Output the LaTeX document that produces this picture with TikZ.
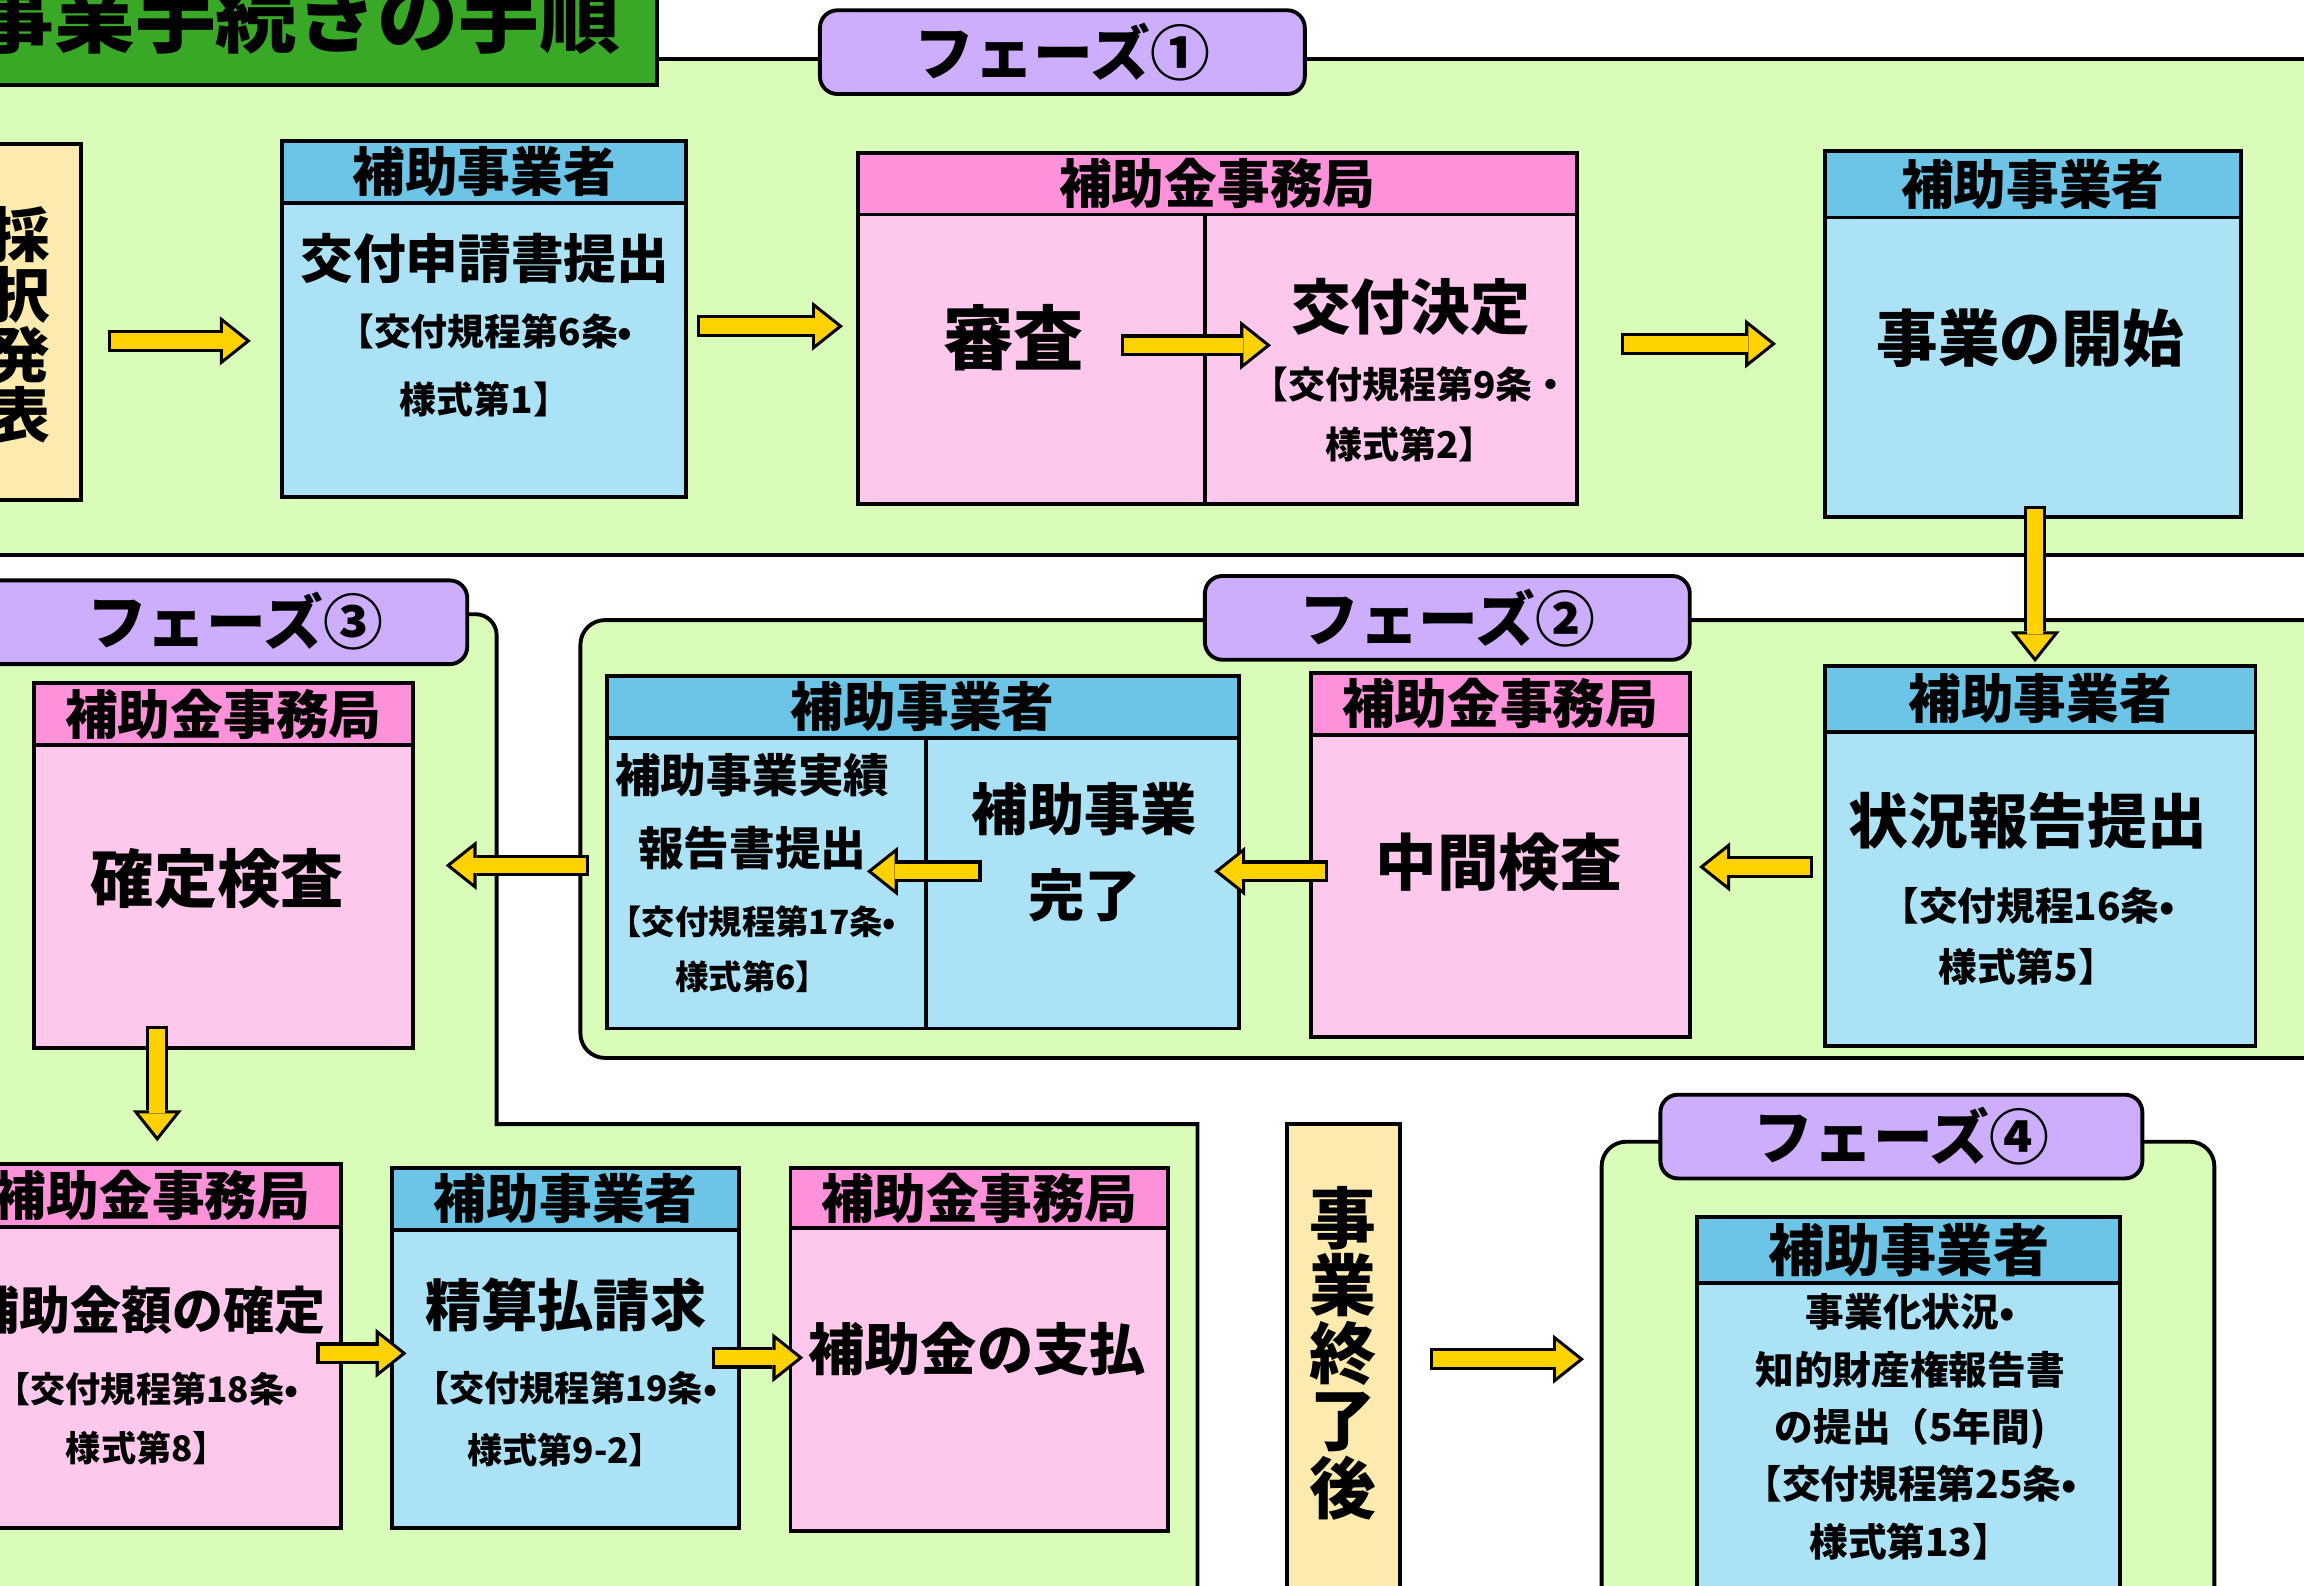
\documentclass[tikz,border=0pt]{standalone}
\usepackage{fontspec}
\setmainfont{Noto Sans CJK JP}
\usetikzlibrary{fit,calc,arrows.meta,positioning}
\definecolor{zonegreen}{HTML}{DAFCB9}
\definecolor{titlegreen}{HTML}{38A826}
\definecolor{phasepurple}{HTML}{CCAEFC}
\definecolor{bluehead}{HTML}{6CC4E6}
\definecolor{bluebody}{HTML}{ACE2F6}
\definecolor{pinkhead}{HTML}{FE92DA}
\definecolor{pinkbody}{HTML}{FEC8EC}
\definecolor{notegold}{HTML}{FCEAAE}
\definecolor{arrowyellow}{HTML}{FED200}
\newcommand{\jpsize}[2]{\fontsize{#1}{#2}\selectfont\bfseries}

\begin{document}
\begin{tikzpicture}[x=0.014694cm, y=-0.014694cm, thick,
  zone/.style={draw, line width=1.1pt, fill=zonegreen},
  box/.style={draw, line width=1.1pt, inner sep=0pt},
  bhead/.style={box, fill=bluehead},
  bbody/.style={box, fill=bluebody},
  phead/.style={box, fill=pinkhead},
  pbody/.style={box, fill=pinkbody},
  note/.style={box, fill=notegold},
  phase/.style={box, fill=phasepurple, rounded corners=5pt},
  txt/.style={inner sep=0pt, align=center},
  headtxt/.style={txt, font=\jpsize{15}{18}},
  phasetxt/.style={txt, font=\jpsize{17}{20}},
  divider/.style={line width=1.1pt},
  flow/.style={draw=black, line width=6.2pt, -{Triangle[length=8.8pt,width=14pt,line width=0pt]},
    postaction={draw=arrowyellow, line width=4.4pt, shorten <=0.9pt, shorten >=1.45pt,
      -{Triangle[length=6.45pt,width=10.3pt,line width=0pt]}}}]
\useasboundingbox (0,0) rectangle (1568,1079);
\clip (0,0) rectangle (1568,1079);

\draw[zone] (-20,40) rectangle (1600,378);
\draw[zone] (1600,422) [rounded corners=7pt] -- (395,422) -- (395,720) [sharp corners] -- (1600,720) -- cycle;
\draw[zone] (-20,418) [rounded corners=6pt] -- (338,418) [sharp corners] -- (338,765) -- (815,765) -- (815,1100) -- (-20,1100) -- cycle;
\draw[zone] (1090,1100) [rounded corners=7pt] -- (1090,777) -- (1507,777) [sharp corners] -- (1507,1100) -- cycle;

\node[box, fill=titlegreen, fit={(-20,-20)(447,58)}] (ttl) {};
\node[txt, font=\jpsize{23}{26}] (ttltxt) at (202,11) {事業手続きの手順};

\node[phase, fit={(558,7)(888,64)}] (p1) {};
\node[phasetxt] (p1txt) at (p1.center) {フェーズ①};
\node[phase, fit={(820,392)(1150,449)}] (p2) {};
\node[phasetxt] (p2txt) at (p2.center) {フェーズ②};
\node[phase, fit={(-20,395)(318,452)}] (p3) {};
\node[phasetxt] (p3txt) at (160,423) {フェーズ③};
\node[phase, fit={(1130,745)(1458,802)}] (p4) {};
\node[phasetxt] (p4txt) at (p4.center) {フェーズ④};

\node[note, fit={(-20,98)(55,340)}] (ann) {};
\node[txt, font=\jpsize{17}{17.1}] (anntxt) at (14,221) {採\\択\\発\\表};

\node[bbody, fit={(192,138)(467,338)}] (aa) {};
\node[bhead, fit={(192,96)(467,138)}] (aahead) {};
\node[headtxt] (aaheadtxt) at (aahead.center) {補助事業者};
\node[txt, font=\jpsize{10.5}{19.2}] (aatxt) at (330,221) {{\jpsize{15}{19.2}交付申請書提出}\\【交付規程第6条•\\様式第1】};

\node[pbody, fit={(584,146)(1073,343)}] (bb) {};
\node[phead, fit={(584,104)(1073,146)}] (bbhead) {};
\node[headtxt] (bbheadtxt) at (bbhead.center) {補助金事務局};
\draw[divider] (820,0 |- bb.north) -- (820,0 |- bb.south);
\node[txt, font=\jpsize{20}{24}] (bbtxt) at (690,230) {審査};
\node[txt, font=\jpsize{10.5}{17.1}] (bbdec) at (960,252) {{\jpsize{17}{17.1}交付決定}\\[2.5pt]【交付規程第9条・\\様式第2】};

\node[bbody, fit={(1242,148)(1525,352)}] (cc) {};
\node[bhead, fit={(1242,103)(1525,148)}] (cchead) {};
\node[headtxt] (ccheadtxt) at (cchead.center) {補助事業者};
\node[txt, font=\jpsize{17.5}{20}] (cctxt) at (1382,230) {事業の開始};

\node[bbody, fit={(1242,498)(1535,712)}] (dd) {};
\node[bhead, fit={(1242,453)(1535,498)}] (ddhead) {};
\node[headtxt] (ddheadtxt) at (ddhead.center) {補助事業者};
\node[txt, font=\jpsize{11}{17.5}] (ddtxt) at (1380,605) {{\jpsize{17}{17.5}状況報告提出}\\[4.2pt]【交付規程16条•\\様式第5】};

\node[pbody, fit={(892,500)(1150,706)}] (ee) {};
\node[phead, fit={(892,458)(1150,500)}] (eehead) {};
\node[headtxt] (eeheadtxt) at (eehead.center) {補助金事務局};
\node[txt, font=\jpsize{17.5}{20}] (eetxt) at (1020,587) {中間検査};

\node[bbody, fit={(413,502)(843,700)}] (ff) {};
\node[bhead, fit={(413,460)(843,502)}] (ffhead) {};
\node[headtxt] (ffheadtxt) at (ffhead.center) {補助事業者};
\draw[divider] (630,0 |- ff.north) -- (630,0 |- ff.south);
\node[txt, font=\jpsize{9.5}{15.5}] (fftxt) at (512,594) {{\jpsize{13}{15.5}補助事業実績}\\[5.4pt]{\jpsize{13}{15.5}報告書提出}\\[4.1pt]【交付規程第17条•\\様式第6】};
\node[txt, font=\jpsize{16}{24.6}] (ffdone) at (738,580) {補助事業\\完了};

\node[pbody, fit={(23,507)(281,713)}] (gg) {};
\node[phead, fit={(23,465)(281,507)}] (gghead) {};
\node[headtxt] (ggheadtxt) at (gghead.center) {補助金事務局};
\node[txt, font=\jpsize{18}{20}] (ggtxt) at (148,598) {確定検査};

\node[pbody, fit={(-25,835)(232,1040)}] (hh) {};
\node[phead, fit={(-25,792)(232,835)}] (hhhead) {};
\node[headtxt] (hhheadtxt) at (hhhead.center) {補助金事務局};
\node[txt, font=\jpsize{10}{16.7}] (hhtxt) at (100,936) {{\jpsize{14.5}{16.7}補助金額の確定}\\[4.2pt]【交付規程第18条•\\様式第8】};

\node[bbody, fit={(267,837)(503,1040)}] (ii) {};
\node[bhead, fit={(267,795)(503,837)}] (iihead) {};
\node[headtxt] (iiheadtxt) at (iihead.center) {補助事業者};
\node[txt, font=\jpsize{10}{17.5}] (iitxt) at (385,934) {{\jpsize{16}{17.5}精算払請求}\\[3.8pt]【交付規程第19条•\\様式第9-2】};

\node[pbody, fit={(538,836)(795,1042)}] (jj) {};
\node[phead, fit={(538,795)(795,836)}] (jjhead) {};
\node[headtxt] (jjheadtxt) at (jjhead.center) {補助金事務局};
\node[txt, font=\jpsize{16}{20}] (jjtxt) at (665,918) {補助金の支払};

\node[note, fit={(876,765)(953,1100)}] (ends) {};
\node[txt, font=\jpsize{19}{19.2}] (endstxt) at (914,921) {事\\業\\終\\了\\後};

\node[bbody, fit={(1155,873)(1443,1100)}] (kk) {};
\node[bhead, fit={(1155,828)(1443,873)}] (kkhead) {};
\node[headtxt, font=\jpsize{16}{18}] (kkheadtxt) at (kkhead.center) {補助事業者};
\node[txt, font=\jpsize{11}{16.3}] (kktxt) at (1300,971) {事業化状況•\\知的財産権報告書\\の提出（5年間)\\【交付規程第25条•\\様式第13】};

\coordinate (bbin) at (763,235);
\coordinate (bbout) at (865,235);
\coordinate (ffin) at (668,593);
\coordinate (ffout) at (590,593);
\coordinate (kkgate) at (1078,925);

\draw[flow] ($(ann.east)+(17,13)$) -- ($(aa.west)+(-20,-6)$);
\draw[flow] ($(aa.east)+(6,-16)$) -- ($(bb.west)+(-9,-22.5)$);
\draw[flow] (bbin) -- (bbout);
\draw[flow] ($(bb.east)+(29,-10.5)$) -- ($(cc.west)+(-32,-16)$);
\draw[flow] ($(cc.south)+(1.5,-9)$) -- ($(cc.south |- ddhead.north)+(1.5,-1)$);
\draw[flow] ($(dd.west)+(-7,-15)$) -- ($(ee.east)+(5,-13)$);
\draw[flow] ($(ee.west)+(13,-10)$) -- ($(ff.east)+(-18,-8)$);
\draw[flow] (ffin) -- (ffout);
\draw[flow] ($(ff.west)+(-11,-12)$) -- ($(gg.east)+(21,-21)$);
\draw[flow] ($(gg.south)+(-45,-16)$) -- ($(hhhead.north)+(3.5,-14)$);
\draw[flow] ($(hh.east)+(-18,-16.5)$) -- ($(ii.west)+(11,-17.5)$);
\draw[flow] ($(ii.east)+(-20,-14.5)$) -- ($(jj.west)+(10,-15)$);
\draw[flow] ($(ends.east)+(19,-7.5)$) -- (kkgate);
\end{tikzpicture}
\end{document}
